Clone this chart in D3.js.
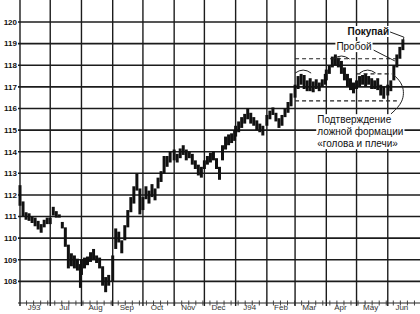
<!DOCTYPE html>
<html>
<head>
<meta charset="utf-8">
<script src="https://cdn.jsdelivr.net/npm/d3@7"></script>
<style>
  body { margin: 0; background: #fff; }
  svg { display: block; font-family: "Liberation Sans", Arial, sans-serif; }
</style>
</head>
<body>
<div id="chart"></div>
<script>
// price bars per month, [low, high], one bar every ~3 days
const jun93 = [[111.5,112.45],[111.0,111.7],[110.85,111.2],[110.8,111.15],[110.7,111.0],[110.55,110.95],[110.4,110.8],[110.25,110.65],[110.5,110.85],[110.65,110.95]];
const jul93 = [[110.65,110.95],[111.05,111.45],[110.95,111.25],[110.95,111.1],[110.45,110.75],[109.6,110.5],[108.6,109.7],[108.7,109.3],[108.6,109.2],[108.5,109.05],[107.7,108.8]];
const aug93 = [[108.3,109.0],[108.6,109.1],[108.75,109.15],[108.9,109.35],[109.0,109.5],[108.85,109.2],[108.6,109.1],[107.8,108.7],[107.5,108.2],[107.8,108.3]];
const sep93 = [[108.0,109.2],[109.5,110.45],[109.8,110.3],[109.3,109.9],[109.9,110.6],[110.5,111.3],[111.2,111.9],[111.6,112.4],[112.2,113.0],[111.1,112.3]];
const oct93 = [[111.3,111.9],[111.8,112.4],[111.6,112.2],[111.9,112.5],[111.75,112.3],[112.3,112.8],[112.6,113.1],[113.0,113.8],[113.3,113.8],[113.5,114.0]];
const nov93 = [[113.6,114.1],[113.5,113.9],[113.7,114.15],[113.85,114.3],[113.6,114.1],[113.7,114.0],[113.4,113.9],[113.2,113.6],[112.9,113.4],[112.8,113.3]];
const dec93 = [[113.2,113.6],[113.4,113.8],[113.5,113.95],[113.6,114.0],[113.2,113.7],[112.7,113.3],[113.6,114.3],[114.1,114.7],[114.3,114.8],[114.4,114.85],[114.5,115.0]];
const jan94 = [[114.7,115.2],[114.9,115.4],[115.1,115.6],[115.3,115.75],[115.5,116.0],[115.3,115.8],[115.2,115.6],[115.0,115.45],[114.9,115.3],[114.75,115.2]];
const feb94 = [[115.2,115.7],[115.5,115.9],[115.7,116.05],[115.4,115.8],[115.1,115.55],[115.2,115.7],[115.6,116.0],[115.8,116.3],[116.1,116.7]];
const mar94 = [[116.5,117.1],[116.9,117.5],[117.1,117.6],[116.9,117.55],[116.8,117.3],[116.8,117.4],[116.75,117.25],[116.9,117.35],[116.8,117.2],[117.0,117.35],[117.1,117.6]];
const apr94 = [[117.3,117.8],[117.6,118.0],[117.9,118.4],[118.0,118.5],[117.9,118.35],[117.6,118.2],[117.3,117.9],[117.0,117.6],[116.85,117.4],[116.7,117.2]];
const may94 = [[116.9,117.3],[117.0,117.5],[117.1,117.55],[117.0,117.6],[117.1,117.5],[116.9,117.4],[116.9,117.3],[116.85,117.4],[116.6,117.1],[116.45,117.0]];
const jun94 = [[116.6,117.1],[116.8,117.3],[117.3,118.0],[117.9,118.5],[118.3,118.85],[118.7,119.2]];

const priceTicks = [108, 109, 110, 111, 112, 113, 114, 115, 116, 117, 118, 119, 120];
const monthLabels = ["J93", "Jul", "Aug", "Sep", "Oct", "Nov", "Dec", "J94", "Feb", "Mar", "Apr", "May", "Jun"];

// pattern levels (dashed lines)
const patternLevels = [
  { value: 118.3, from: "1994-03-01", to: "1994-06-10" },
  { value: 117.6, from: "1994-05-01", to: "1994-06-05" },
  { value: 116.35, from: "1994-03-01", to: "1994-06-10" }
];
// shoulders and head caps
const caps = [
  { date: "1994-03-09", value: 117.73 },
  { date: "1994-04-16", value: 118.38 },
  { date: "1994-05-12", value: 117.73 }
];

const months = [
  { start: new Date(1993, 5, 1), bars: jun93 },
  { start: new Date(1993, 6, 1), bars: jul93 },
  { start: new Date(1993, 7, 1), bars: aug93 },
  { start: new Date(1993, 8, 1), bars: sep93 },
  { start: new Date(1993, 9, 1), bars: oct93 },
  { start: new Date(1993, 10, 1), bars: nov93 },
  { start: new Date(1993, 11, 1), bars: dec93 },
  { start: new Date(1994, 0, 1), bars: jan94 },
  { start: new Date(1994, 1, 1), bars: feb94 },
  { start: new Date(1994, 2, 1), bars: mar94 },
  { start: new Date(1994, 3, 1), bars: apr94 },
  { start: new Date(1994, 4, 1), bars: may94 },
  { start: new Date(1994, 5, 1), bars: jun94 }
];

const parseDay = d3.timeParse("%Y-%m-%d");

function drawChart(container) {
  const width = 420;
  const height = 314;
  const axisY = 303;

  const svg = d3.select(container)
    .append("svg")
    .attr("width", width)
    .attr("height", height);

  const x = d3.scaleTime()
    .domain([new Date(1993, 5, 1), new Date(1994, 6, 1)])
    .range([20, 418]);

  const y = d3.scaleLinear()
    .domain([107, 121])
    .range([axisY, 0.4]);

  //Horizontal grid
  svg.append("g")
    .selectAll("line")
    .data(priceTicks)
    .join("line")
    .attr("x1", 18)
    .attr("x2", width)
    .attr("y1", (d) => y(d))
    .attr("y2", (d) => y(d))
    .attr("stroke", "#1c1c1c")
    .attr("stroke-width", 1.6);

  //Vertical grid (month starts)
  const monthStarts = months.map((m) => m.start);
  svg.append("g")
    .selectAll("line")
    .data(monthStarts)
    .join("line")
    .attr("x1", (d) => x(d))
    .attr("x2", (d) => x(d))
    .attr("y1", 0)
    .attr("y2", axisY + 3)
    .attr("stroke", "#1c1c1c")
    .attr("stroke-width", 1.4);

  //Price labels
  svg.append("g")
    .selectAll("text")
    .data(priceTicks)
    .join("text")
    .attr("x", 17)
    .attr("y", (d) => y(d))
    .attr("dy", "0.35em")
    .attr("text-anchor", "end")
    .attr("font-size", 8)
    .attr("font-weight", "bold")
    .attr("fill", "#111")
    .text((d) => d);

  //Bottom axis line + weekly ticks
  svg.append("line")
    .attr("x1", 18)
    .attr("x2", width)
    .attr("y1", axisY)
    .attr("y2", axisY)
    .attr("stroke", "#222")
    .attr("stroke-width", 1.2);

  const weekAxis = d3.axisBottom(x)
    .ticks(d3.timeMonday.every(1))
    .tickSizeInner(5)
    .tickSizeOuter(0)
    .tickFormat("");

  const weeks = svg.append("g")
    .attr("transform", `translate(0, ${axisY - 2.5})`)
    .call(weekAxis);
  weeks.select(".domain").remove();
  weeks.selectAll(".tick line").attr("stroke", "#333").attr("stroke-width", 0.9);

  //Month labels
  svg.append("g")
    .selectAll("text")
    .data(monthStarts)
    .join("text")
    .attr("x", (d) => x(new Date(d.getFullYear(), d.getMonth(), 15)))
    .attr("y", 310)
    .attr("text-anchor", "middle")
    .attr("font-size", 8)
    .attr("fill", "#333")
    .text((d, i) => monthLabels[i]);

  //Price bars
  const bars = months.flatMap((m) =>
    m.bars.map((b, j) => ({
      date: new Date(m.start.getFullYear(), m.start.getMonth(), 1 + 3 * j),
      low: b[0],
      high: b[1]
    }))
  );

  svg.append("g")
    .selectAll("line")
    .data(bars)
    .join("line")
    .attr("x1", (d) => x(d.date))
    .attr("x2", (d) => x(d.date))
    .attr("y1", (d) => y(d.low))
    .attr("y2", (d) => y(d.high))
    .attr("stroke", "#111")
    .attr("stroke-width", 3);

  drawNotes(svg, x, y);
}

// text with a white box behind it, like the pasted labels in the print
function boxedText(svg, px, py, lines, bold) {
  const g = svg.append("g");
  const bg = g.append("rect").attr("fill", "#fff");
  const t = g.append("text")
    .attr("x", px)
    .attr("y", py)
    .attr("font-size", 10)
    .attr("font-weight", bold ? "bold" : "normal")
    .attr("fill", "#111");
  t.selectAll("tspan")
    .data(lines)
    .join("tspan")
    .attr("x", px)
    .attr("dy", (d, i) => (i === 0 ? 0 : 12))
    .text((d) => d);
  const b = t.node().getBBox();
  bg.attr("x", b.x - 1).attr("y", b.y).attr("width", b.width + 2).attr("height", b.height);
}

function drawNotes(svg, x, y) {
  const at = (day, value) => [x(parseDay(day)), y(value)];

  //Dashed pattern levels
  svg.append("g")
    .selectAll("line")
    .data(patternLevels)
    .join("line")
    .attr("x1", (d) => x(parseDay(d.from)))
    .attr("x2", (d) => x(parseDay(d.to)))
    .attr("y1", (d) => y(d.value))
    .attr("y2", (d) => y(d.value))
    .attr("stroke", "#222")
    .attr("stroke-width", 1.2)
    .attr("stroke-dasharray", "4,3");

  //Caps over shoulders and head
  svg.append("g")
    .selectAll("path")
    .data(caps)
    .join("path")
    .attr("d", (d) => {
      const [cx, cy] = at(d.date, d.value);
      return `M${cx - 8},${cy + 2} Q${cx},${cy - 4} ${cx + 8},${cy + 2}`;
    })
    .attr("fill", "none")
    .attr("stroke", "#222")
    .attr("stroke-width", 1);

  const line = d3.line().curve(d3.curveLinear);
  const curve = d3.line().curve(d3.curveBasis);

  //"Покупай" leader
  svg.append("path")
    .attr("d", line([at("1994-06-01", 119.58), at("1994-06-17", 119.3), at("1994-06-16", 119.05)]))
    .attr("fill", "none")
    .attr("stroke", "#222")
    .attr("stroke-width", 1);

  //"Пробой" leader
  svg.append("path")
    .attr("d", line([at("1994-05-18", 118.7), at("1994-06-08", 118.2)]))
    .attr("fill", "none")
    .attr("stroke", "#222")
    .attr("stroke-width", 1);

  //Confirmation arc
  svg.append("path")
    .attr("d", curve([at("1994-06-07", 117.55), at("1994-06-17", 117.1), at("1994-06-17", 116.3), at("1994-06-04", 115.74)]))
    .attr("fill", "none")
    .attr("stroke", "#222")
    .attr("stroke-width", 1);

  const [bx, by] = at("1994-04-22", 119.4);
  boxedText(svg, bx, by, ["Покупай"], true);

  const [px, py] = at("1994-04-11", 118.7);
  boxedText(svg, px, py, ["Пробой"], false);

  const [tx, ty] = at("1994-03-23", 115.32);
  boxedText(svg, tx, ty, ["Подтверждение", "ложной формации", "«голова и плечи»"], false);
}

drawChart("#chart");
</script>
</body>
</html>
